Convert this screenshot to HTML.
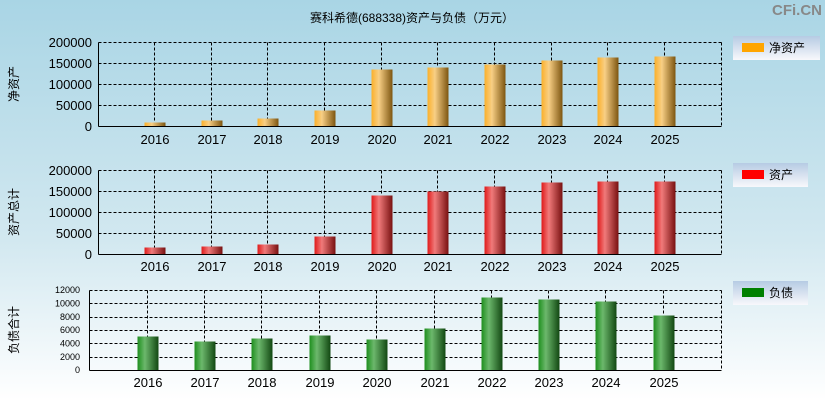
<!DOCTYPE html>
<html><head><meta charset="utf-8"><style>
body{margin:0;width:825px;height:400px;overflow:hidden}
svg{display:block;font-family:"Liberation Sans","Noto Sans CJK SC",sans-serif}
line{shape-rendering:crispEdges}
</style></head><body>
<svg width="825" height="400" xmlns="http://www.w3.org/2000/svg">
<defs>
<linearGradient id="bg" x1="0" y1="0" x2="0" y2="1"><stop offset="0" stop-color="#a9d5e5"/><stop offset="0.6" stop-color="#d2e8f0"/><stop offset="1" stop-color="#ffffff"/></linearGradient>
<linearGradient id="go" x1="0" x2="1"><stop offset="0" stop-color="#fbb02a"/><stop offset="0.35" stop-color="#f8cf85"/><stop offset="1" stop-color="#7d5510"/></linearGradient>
<linearGradient id="gr" x1="0" x2="1"><stop offset="0" stop-color="#e01a1a"/><stop offset="0.35" stop-color="#f07a7a"/><stop offset="1" stop-color="#781010"/></linearGradient>
<linearGradient id="gg" x1="0" x2="1"><stop offset="0" stop-color="#1e8f1e"/><stop offset="0.35" stop-color="#6cb86c"/><stop offset="1" stop-color="#124812"/></linearGradient>
<linearGradient id="lg" x1="0" y1="0" x2="0" y2="1"><stop offset="0" stop-color="#b6cbe3"/><stop offset="1" stop-color="#f8f8fb"/></linearGradient>
</defs>
<rect width="825" height="400" fill="url(#bg)"/>
<text x="412" y="22" font-size="12" text-anchor="middle">赛科希德(688338)资产与负债（万元）</text>
<text x="822" y="15" font-size="15" font-weight="bold" fill="#888" text-anchor="end">CFi.CN</text>
<g transform="translate(0.5,0.5)">
<g id="c1">
<g stroke="#000" stroke-dasharray="3,2" fill="none">
<line x1="98" y1="42" x2="721" y2="42"/><line x1="98" y1="63" x2="721" y2="63"/><line x1="98" y1="84" x2="721" y2="84"/><line x1="98" y1="105" x2="721" y2="105"/>
<line x1="721" y1="42" x2="721" y2="126"/>
<line x1="154" y1="42" x2="154" y2="126"/><line x1="211" y1="42" x2="211" y2="126"/><line x1="267" y1="42" x2="267" y2="126"/><line x1="324" y1="42" x2="324" y2="126"/><line x1="381" y1="42" x2="381" y2="126"/><line x1="437" y1="42" x2="437" y2="126"/><line x1="494" y1="42" x2="494" y2="126"/><line x1="551" y1="42" x2="551" y2="126"/><line x1="607" y1="42" x2="607" y2="126"/><line x1="664" y1="42" x2="664" y2="126"/>
</g>
<g fill="url(#go)">
<rect x="144" y="122" width="21" height="4"/><rect x="201" y="120" width="21" height="6"/><rect x="257" y="118" width="21" height="8"/><rect x="314" y="110" width="21" height="16"/><rect x="371" y="69" width="21" height="57"/><rect x="427" y="67" width="21" height="59"/><rect x="484" y="64" width="21" height="62"/><rect x="541" y="60" width="21" height="66"/><rect x="597" y="57" width="21" height="69"/><rect x="654" y="56" width="21" height="70"/>
</g>
<g stroke="#000"><line x1="98" y1="42" x2="98" y2="126"/><line x1="98" y1="126" x2="721" y2="126"/></g>
</g>
<g id="c2">
<g stroke="#000" stroke-dasharray="3,2" fill="none">
<line x1="98" y1="170" x2="721" y2="170"/><line x1="98" y1="191" x2="721" y2="191"/><line x1="98" y1="212" x2="721" y2="212"/><line x1="98" y1="233" x2="721" y2="233"/>
<line x1="721" y1="170" x2="721" y2="254"/>
<line x1="154" y1="170" x2="154" y2="254"/><line x1="211" y1="170" x2="211" y2="254"/><line x1="267" y1="170" x2="267" y2="254"/><line x1="324" y1="170" x2="324" y2="254"/><line x1="381" y1="170" x2="381" y2="254"/><line x1="437" y1="170" x2="437" y2="254"/><line x1="494" y1="170" x2="494" y2="254"/><line x1="551" y1="170" x2="551" y2="254"/><line x1="607" y1="170" x2="607" y2="254"/><line x1="664" y1="170" x2="664" y2="254"/>
</g>
<g fill="url(#gr)">
<rect x="144" y="247" width="21" height="7"/><rect x="201" y="246" width="21" height="8"/><rect x="257" y="244" width="21" height="10"/><rect x="314" y="236" width="21" height="18"/><rect x="371" y="195" width="21" height="59"/><rect x="427" y="191" width="21" height="63"/><rect x="484" y="186" width="21" height="68"/><rect x="541" y="182" width="21" height="72"/><rect x="597" y="181" width="21" height="73"/><rect x="654" y="181" width="21" height="73"/>
</g>
<g stroke="#000"><line x1="98" y1="170" x2="98" y2="254"/><line x1="98" y1="254" x2="721" y2="254"/></g>
</g>
<g id="c3">
<g stroke="#000" stroke-dasharray="3,2" fill="none">
<line x1="89" y1="290" x2="721" y2="290"/><line x1="89" y1="303" x2="721" y2="303"/><line x1="89" y1="317" x2="721" y2="317"/><line x1="89" y1="330" x2="721" y2="330"/><line x1="89" y1="343" x2="721" y2="343"/><line x1="89" y1="357" x2="721" y2="357"/>
<line x1="721" y1="290" x2="721" y2="370"/>
<line x1="147" y1="290" x2="147" y2="370"/><line x1="204" y1="290" x2="204" y2="370"/><line x1="261" y1="290" x2="261" y2="370"/><line x1="319" y1="290" x2="319" y2="370"/><line x1="376" y1="290" x2="376" y2="370"/><line x1="434" y1="290" x2="434" y2="370"/><line x1="491" y1="290" x2="491" y2="370"/><line x1="548" y1="290" x2="548" y2="370"/><line x1="605" y1="290" x2="605" y2="370"/><line x1="663" y1="290" x2="663" y2="370"/>
</g>
<g fill="url(#gg)">
<rect x="137" y="336" width="21" height="34"/><rect x="194" y="341" width="21" height="29"/><rect x="251" y="338" width="21" height="32"/><rect x="309" y="335" width="21" height="35"/><rect x="366" y="339" width="21" height="31"/><rect x="424" y="328" width="21" height="42"/><rect x="481" y="297" width="21" height="73"/><rect x="538" y="299" width="21" height="71"/><rect x="595" y="301" width="21" height="69"/><rect x="653" y="315" width="21" height="55"/>
</g>
<g stroke="#000"><line x1="89" y1="290" x2="89" y2="370"/><line x1="89" y1="370" x2="721" y2="370"/></g>
</g>
</g>
<g font-size="13" text-anchor="end"><text x="92" y="47">200000</text><text x="92" y="68">150000</text><text x="92" y="89">100000</text><text x="92" y="110">50000</text><text x="92" y="131">0</text></g>
<g font-size="13" text-anchor="middle"><text x="155" y="144">2016</text><text x="212" y="144">2017</text><text x="268" y="144">2018</text><text x="325" y="144">2019</text><text x="382" y="144">2020</text><text x="438" y="144">2021</text><text x="495" y="144">2022</text><text x="552" y="144">2023</text><text x="608" y="144">2024</text><text x="665" y="144">2025</text></g>
<text transform="translate(18,84) rotate(-90)" font-size="12" text-anchor="middle">净资产</text>
<rect x="733" y="36" width="87" height="24" fill="url(#lg)"/><rect x="742" y="43" width="22" height="9" fill="#ffa500"/><text x="769" y="52" font-size="12">净资产</text>
<g font-size="13" text-anchor="end"><text x="92" y="175">200000</text><text x="92" y="196">150000</text><text x="92" y="217">100000</text><text x="92" y="238">50000</text><text x="92" y="259">0</text></g>
<g font-size="13" text-anchor="middle"><text x="155" y="271">2016</text><text x="212" y="271">2017</text><text x="268" y="271">2018</text><text x="325" y="271">2019</text><text x="382" y="271">2020</text><text x="438" y="271">2021</text><text x="495" y="271">2022</text><text x="552" y="271">2023</text><text x="608" y="271">2024</text><text x="665" y="271">2025</text></g>
<text transform="translate(18,212) rotate(-90)" font-size="12" text-anchor="middle">资产总计</text>
<rect x="733" y="163" width="75" height="24" fill="url(#lg)"/><rect x="742" y="170" width="22" height="9" fill="#ff0000"/><text x="769" y="179" font-size="12">资产</text>
<g font-size="9" text-anchor="end"><text x="80" y="293">12000</text><text x="80" y="306.5">10000</text><text x="80" y="320">8000</text><text x="80" y="333">6000</text><text x="80" y="346.5">4000</text><text x="80" y="360">2000</text><text x="80" y="373">0</text></g>
<g font-size="13" text-anchor="middle"><text x="148" y="387">2016</text><text x="205" y="387">2017</text><text x="262" y="387">2018</text><text x="320" y="387">2019</text><text x="377" y="387">2020</text><text x="435" y="387">2021</text><text x="492" y="387">2022</text><text x="549" y="387">2023</text><text x="606" y="387">2024</text><text x="664" y="387">2025</text></g>
<text transform="translate(18,330) rotate(-90)" font-size="12" text-anchor="middle">负债合计</text>
<rect x="733" y="281" width="75" height="24" fill="url(#lg)"/><rect x="742" y="288" width="22" height="9" fill="#008000"/><text x="769" y="297" font-size="12">负债</text>
</svg>
</body></html>
